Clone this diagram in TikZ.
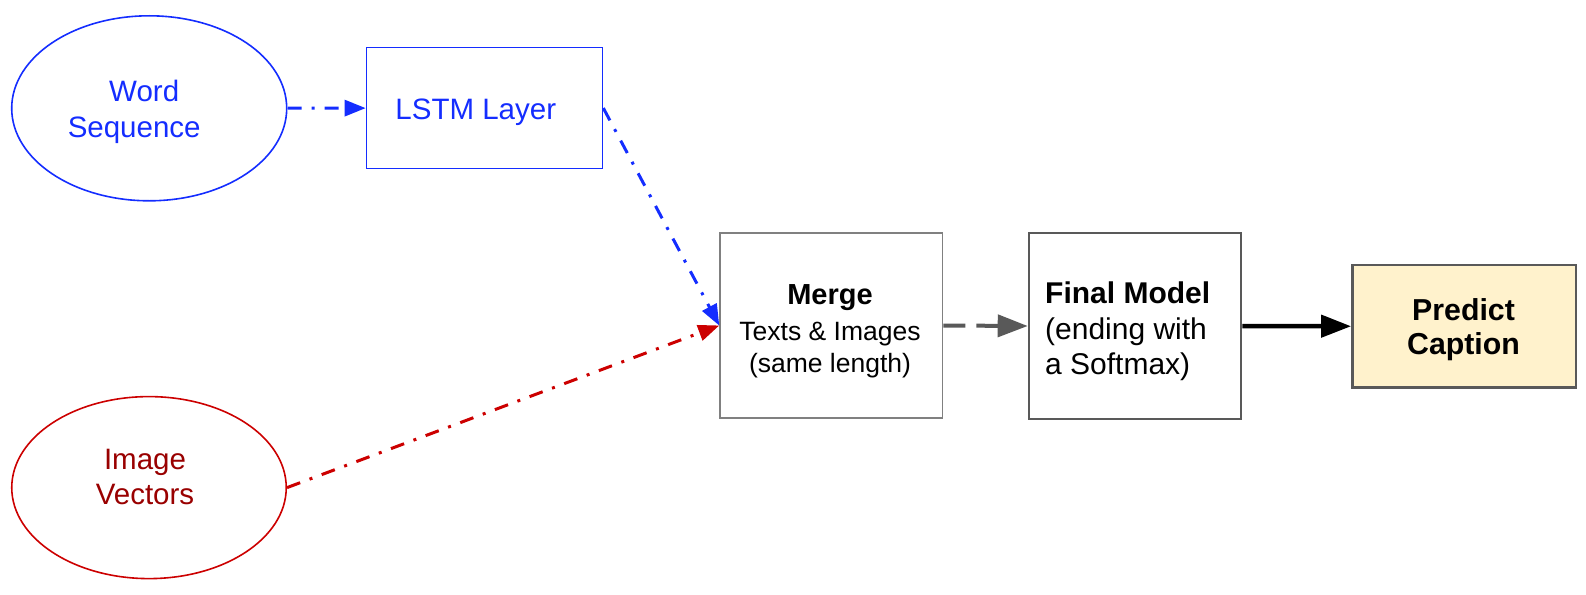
\documentclass[tikz,border=0pt]{standalone}
\usepackage{fontspec}
\setmainfont{Liberation Sans}
\usetikzlibrary{arrows.meta,shapes.geometric}
\definecolor{myblue}{RGB}{20,45,255}
\definecolor{myred}{RGB}{204,0,0}
\definecolor{mydarkred}{RGB}{153,0,0}
\definecolor{boxgray}{RGB}{128,128,128}
\definecolor{darkgrayb}{RGB}{89,89,89}
\definecolor{predfill}{RGB}{255,242,204}
\begin{document}
\begin{tikzpicture}[x=1pt,y=-1pt,
  ovalnode/.style={ellipse,draw,line width=1.6pt,inner sep=0pt},
  boxnode/.style={rectangle,draw,inner sep=0pt},
  txt/.style={inner sep=0pt,align=center,font=\fontsize{29.5}{35.7}\selectfont},
  dashdot/.style={line width=3pt,dash pattern=on 14pt off 10pt on 3pt off 10pt},
  smalltip/.style={-{Triangle[length=21pt,width=16pt]}},
  bigtip/.style={-{Triangle[length=30pt,width=22pt]}}
]
\useasboundingbox (0,0) rectangle (1586,594);

% shapes
\node[ovalnode,draw=myblue,minimum width=275pt,minimum height=185pt] (word) at (149.2,108.3) {};
\node[ovalnode,draw=myred,minimum width=274.5pt,minimum height=182pt] (image) at (149,487.6) {};
\node[boxnode,draw=myblue,line width=1.6pt,minimum width=236pt,minimum height=121pt] (lstm) at (484.5,108) {};
\node[boxnode,draw=boxgray,line width=1.5pt,minimum width=222.5pt,minimum height=185pt] (merge) at (831.25,325.5) {};
\node[boxnode,draw=darkgrayb,line width=2.6pt,minimum width=212pt,minimum height=186pt] (final) at (1135,326) {};
\node[boxnode,draw=darkgrayb,fill=predfill,line width=2.8pt,minimum width=223.5pt,minimum height=122.5pt] (predict) at (1464.25,326.25) {};

% texts
\node[txt,text=myblue] (wordtxt) at (134.2,112.7) {\strut\hspace*{20pt}Word\\\strut Sequence};
\node[txt,text=myblue] (lstmtxt) at (475.8,112.1) {\strut LSTM Layer};
\node[txt,text=mydarkred] (imagetxt) at (145,480) {\strut Image\\\strut Vectors};
\node[inner sep=0pt,align=center,font=\fontsize{26.5}{32}\selectfont] (mergetxt) at (830,331.6)
  {{\fontsize{29}{32}\selectfont\bfseries\strut Merge}\\[4pt]\strut Texts \& Images\\\strut (same length)};
\node[inner sep=0pt,align=left,anchor=west,font=\fontsize{30}{35.7}\selectfont] (finaltxt) at (1045,332)
  {\strut\textbf{Final Model}\\\strut (ending with\\\strut a Softmax)};
\node[inner sep=0pt,align=center,font=\fontsize{30.3}{34}\selectfont\bfseries] (predtxt) at (1463.5,331)
  {\strut Predict\\\strut Caption};

% connectors
\draw[myblue,dashdot,smalltip] (word) -- (lstm);
\draw[myblue,dashdot,smalltip] (lstm.east) -- (merge.west);
\draw[myred,dashdot,smalltip] (image.east) -- (merge.west);
\draw[darkgrayb,line width=4pt,dash pattern=on 22pt off 11pt,bigtip] (merge.east) -- (final.west);
\draw[black,line width=4.5pt,bigtip] (final.east) -- (predict.west);
\end{tikzpicture}
\end{document}
